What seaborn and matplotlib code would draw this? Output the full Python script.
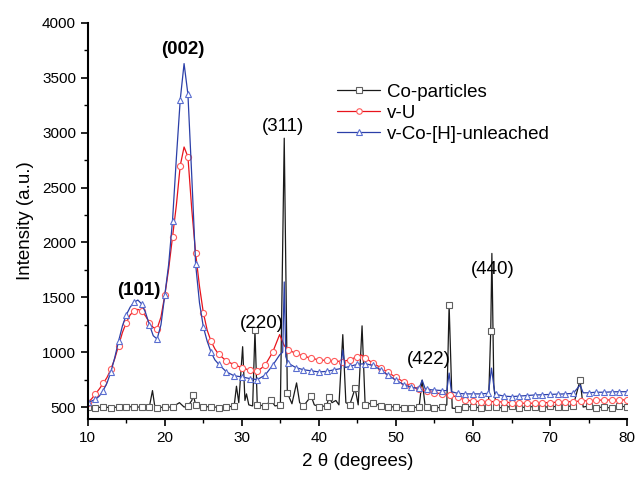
"""
XRD patterns: Co-particles vs v-U vs v-Co-[H]-unleached.
"""

import matplotlib
matplotlib.use("Agg")
import matplotlib.pyplot as plt
import numpy as np
import seaborn as sns
from matplotlib.ticker import MultipleLocator

# --- data ---
co_x = [10, 11, 12, 13, 14, 15, 16, 17, 18, 18.4, 18.7, 19, 20, 21, 21.9, 22.5,
        23, 23.5, 23.7, 24, 25, 26, 27, 28, 29, 29.3, 29.6, 30.1, 30.4, 30.6,
        30.9, 31.4, 31.7, 32, 33, 33.8, 34.3, 35, 35.5, 35.9, 36.5, 37.1, 37.5,
        38, 39, 39.4, 40, 41, 41.3, 41.7, 42.2, 42.6, 43.1, 43.5, 44, 44.7,
        45.1, 45.6, 46, 47, 48, 49, 50, 51, 52, 53, 53.4, 53.8, 54, 55, 56,
        56.6, 56.9, 57.3, 58, 59, 60, 61, 62, 62.3, 62.45, 62.7, 63, 64, 65,
        66, 67, 68, 69, 70, 71, 72, 73, 73.9, 74.3, 75, 76, 77, 78, 79, 80]
co_y = [500, 495, 500, 495, 500, 505, 500, 500, 505, 650, 505, 495, 500, 500, 540, 500,
        510, 560, 610, 520, 500, 505, 495, 500, 510, 690, 540, 1050, 560, 620,
        520, 510, 1200, 520, 510, 560, 510, 520, 2950, 630, 530, 720, 540,
        510, 600, 520, 505, 510, 590, 540, 560, 520, 1160, 540, 520, 670,
        520, 1240, 520, 540, 510, 505, 500, 495, 495, 500, 745, 500, 505, 490, 500,
        520, 1430, 490, 485, 500, 505, 490, 500, 1190, 1900, 700, 500, 490, 510,
        495, 500, 505, 490, 510, 500, 505, 510, 745, 500, 510, 495, 500, 490, 510, 500]
# extra Co-particle samples that carry a square in the reference
co_marked = [23.7, 31.7, 33.8, 35.9, 41.3, 44.7, 56.9, 62.3, 73.9]

vu_x = [10, 10.5, 11, 11.5, 12, 12.5, 13, 13.5, 14, 14.5, 15, 15.5, 16, 16.5, 17,
        17.5, 18, 18.5, 19, 19.5, 20, 20.5, 21, 21.5, 22, 22.5, 23, 23.5, 24,
        24.5, 25, 25.5, 26, 26.5, 27, 28, 29, 30, 31, 32, 33, 34, 34.9, 35.5,
        36, 37, 38, 39, 40, 41, 42, 43, 44, 45, 45.5, 46, 47, 48, 49, 50, 51,
        52, 53, 54, 55, 56, 57, 58, 59, 60, 61, 62, 63, 64, 65, 66, 67, 68, 69,
        70, 71, 72, 73, 74, 75, 76, 77, 78, 79, 80]
vu_y = [540, 575, 620, 665, 715, 770, 845, 940, 1060, 1180, 1270, 1340, 1375, 1390, 1375,
        1330, 1270, 1225, 1215, 1320, 1520, 1760, 2050, 2340, 2700, 2870, 2780, 2300, 1900,
        1600, 1360, 1200, 1100, 1030, 980, 920, 885, 860, 835, 825, 880, 1000, 1160, 1060,
        1020, 990, 965, 945, 930, 925, 920, 915, 930, 960, 975, 950, 900, 860, 815, 770, 730,
        690, 660, 645, 630, 620, 610, 590, 565, 555, 550, 550, 550, 545, 540, 535, 535, 535, 540,
        540, 545, 548, 550, 555, 558, 562, 564, 565, 565, 565]

vco_x = [10, 10.5, 11, 11.5, 12, 12.5, 13, 13.5, 14, 14.5, 15, 15.5, 16, 16.5, 17,
         17.5, 18, 18.5, 19, 19.5, 20, 20.5, 21, 21.5, 22, 22.5, 23, 23.5, 24,
         24.5, 25, 25.5, 26, 26.5, 27, 28, 29, 30, 31, 32, 33, 34, 34.9, 35.3,
         35.5, 35.7, 36, 37, 38, 39, 40, 41, 42, 42.8, 43.1, 43.4, 44, 45, 46,
         47, 48, 49, 50, 51, 52, 53, 53.4, 53.8, 54, 55, 56, 56.6, 56.9, 57.2,
         58, 59, 60, 61, 62, 62.4, 62.8, 63, 64, 65, 66, 67, 68, 69, 70, 71, 72,
         73, 73.9, 74.3, 75, 76, 77, 78, 79, 80]
vco_y = [545, 555, 570, 600, 650, 720, 820, 950, 1100, 1240, 1340, 1410, 1455, 1475, 1440,
         1360, 1250, 1150, 1120, 1250, 1520, 1800, 2200, 2770, 3300, 3630, 3350, 2600, 1800,
         1450, 1230, 1100, 1000, 930, 890, 820, 785, 775, 760, 750, 790, 880, 975, 1000,
         1640, 960, 900, 860, 840, 830, 820, 825, 840, 850, 1020, 860, 870, 890, 895,
         880, 840, 790, 745, 705, 680, 670, 745, 665, 660, 655, 650, 650, 810, 640,
         625, 620, 620, 620, 625, 855, 640, 615, 600, 595, 600, 605, 610, 612, 615, 618, 620,
         625, 700, 630, 630, 635, 635, 638, 640, 640]

peak_labels = ["(101)", "(002)", "(220)", "(311)", "(422)", "(440)"]
peak_pos = [(16.6, 1560), (22.3, 3760), (32.6, 1260), (35.3, 3060), (54.3, 930), (62.5, 1750)]
peak_bold = [True, True, False, False, False, False]

sns.set_theme(style="ticks")
plt.rcParams["font.family"] = ["Liberation Sans", "DejaVu Sans"]
plt.rcParams["text.color"] = "black"
plt.rcParams["axes.labelcolor"] = "black"

fig, ax = plt.subplots(figsize=(6.36, 4.79), dpi=100)
fig.subplots_adjust(left=0.138, right=0.986, bottom=0.125, top=0.952)


def marks(xs, extra=()):
    # marker on the whole-degree samples, plus any extra listed angles
    return [float(v).is_integer() or v in extra for v in xs]


series = [
    (co_x, co_y, "Co-particles", "#1a1a1a", "#606060", "s", co_marked),
    (vu_x, vu_y, "v-U", "#e8141c", "#ff5a5a", "o", ()),
    (vco_x, vco_y, "v-Co-[H]-unleached", "#2b3fa8", "#5a6ed0", "^", ()),
]
for xs, ys, name, lc, mc, mk, extra in series:
    sns.lineplot(
        x=np.array(xs, dtype=float), y=np.array(ys, dtype=float), ax=ax,
        color=lc, lw=0.9, label=name, marker=mk, markersize=4.4,
        markerfacecolor="white", markeredgecolor=mc, markeredgewidth=0.8,
        markevery=marks(xs, extra), estimator=None, sort=False,
    )

for txt, (px, py), bold in zip(peak_labels, peak_pos, peak_bold):
    ax.text(px, py, txt, ha="center", va="center", fontsize=13.5,
            fontweight="bold" if bold else "normal", color="black")

ax.set_xlim(10, 80)
ax.set_ylim(390, 4000)
ax.xaxis.set_major_locator(MultipleLocator(10))
ax.xaxis.set_minor_locator(MultipleLocator(5))
ax.yaxis.set_major_locator(MultipleLocator(500))
ax.yaxis.set_minor_locator(MultipleLocator(250))
ax.set_yticks([500, 1000, 1500, 2000, 2500, 3000, 3500, 4000])
ax.tick_params(which="major", direction="out", length=5, width=1.2, labelsize=11,
               colors="black")
ax.tick_params(which="minor", direction="out", length=3, width=1.0, colors="black")
for side in ["top", "right"]:
    ax.spines[side].set_visible(False)
for side in ["left", "bottom"]:
    ax.spines[side].set_linewidth(1.5)
    ax.spines[side].set_color("black")

ax.set_xlabel("2 θ (degrees)", fontsize=13.5, labelpad=6)
ax.set_ylabel("Intensity (a.u.)", fontsize=13.5, labelpad=6)

ax.legend(loc="upper left", bbox_to_anchor=(0.445, 0.87), frameon=False,
          fontsize=13.5, handlelength=2.3, handletextpad=0.35,
          labelspacing=0.2, borderpad=0, markerscale=0.9, labelcolor="black")

fig.savefig("out.png", dpi=100)
